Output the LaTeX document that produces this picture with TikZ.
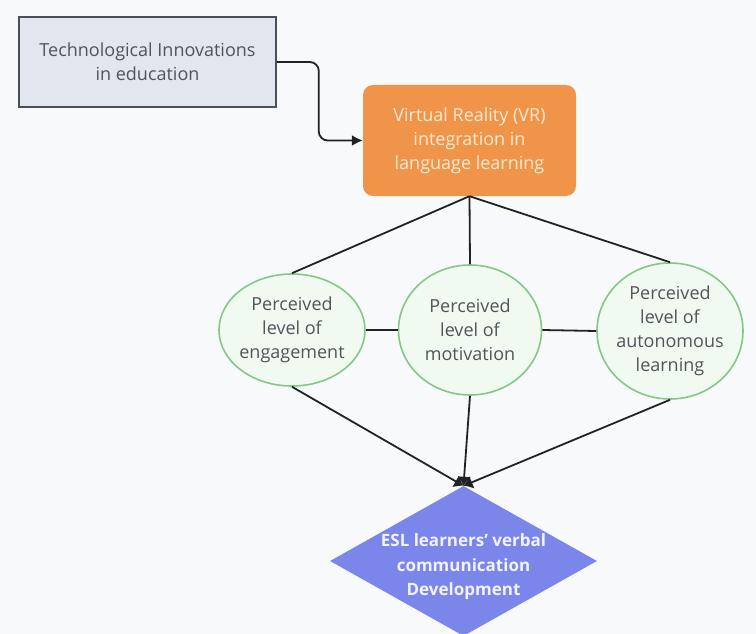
\documentclass[tikz,border=0pt]{standalone}
\usepackage{fontspec}
\setmainfont{Open Sans}
\usetikzlibrary{arrows.meta,shapes.geometric}
\definecolor{bgcol}{HTML}{F8F9FB}
\definecolor{techfill}{HTML}{E2E7EF}
\definecolor{techline}{HTML}{4B5057}
\definecolor{txtgray}{HTML}{50555C}
\definecolor{vrfill}{HTML}{F0944A}
\definecolor{vrtext}{HTML}{FCE9D2}
\definecolor{pcvfill}{HTML}{F1FAF1}
\definecolor{pcvline}{HTML}{84C888}
\definecolor{eslfill}{HTML}{7B86EA}
\definecolor{esltext}{HTML}{F2F3FF}
\definecolor{linkcol}{HTML}{222222}

\begin{document}
\begin{tikzpicture}[x=1pt,y=-1pt,
  txt/.style={align=center, text=txtgray, font=\fontsize{18}{24}\selectfont},
  techbox/.style={rectangle, draw=techline, fill=techfill, line width=1.6pt, minimum width=257pt, minimum height=90pt, txt},
  vrbox/.style={rectangle, rounded corners=10pt, fill=vrfill, minimum width=213pt, minimum height=111pt, align=center, text=vrtext, font=\fontsize{18}{24}\selectfont},
  pcv/.style={ellipse, draw=pcvline, fill=pcvfill, line width=1.6pt, inner sep=0pt},
  esl/.style={diamond, fill=eslfill, minimum width=267pt, minimum height=150pt, inner sep=0pt},
  link/.style={draw=linkcol, line width=1.8pt},
  every label/.style={txt}]
\useasboundingbox[fill=bgcol] (0,0) rectangle (756,634);

% boxes
\node[techbox] (tech) at (147.5,62) {Technological Innovations\\in education};
\node[vrbox] (vr) at (469.5,140.5) {Virtual Reality (VR)\\integration in\\language learning};

% perceived levels
\node[pcv, minimum width=146pt, minimum height=112pt, label=center:{Perceived\\level of\\engagement}] (eng) at (292,330) {};
\node[pcv, minimum width=143pt, minimum height=130pt, label=center:{Perceived\\level of\\motivation}] (mot) at (470,330) {};
\node[pcv, minimum width=146pt, minimum height=136pt, label=center:{Perceived\\level of\\autonomous\\learning}] (aut) at (670,331) {};

% outcome
\node[esl, label={[text=esltext, font=\bfseries\fontsize{17}{24.5}\selectfont, yshift=-6pt]center:{ESL learners' verbal\\communication\\Development}}] (dev) at (463.5,561) {};

% links
\draw[link, rounded corners=9pt, -{Latex[length=11pt,width=11pt]}] (tech.east) -- ++(42,0) |- (vr.west);
\foreach \p in {eng,mot,aut}
  \draw[link] (vr.south) -- (\p.north);
\draw[link] (eng.east) -- (mot.west);
\draw[link] (mot.east) -- (aut.west);
\foreach \p in {eng,mot,aut}
  \draw[link, -{Latex[length=9pt,width=14pt]}] (\p.south) -- (dev.north);
\end{tikzpicture}
\end{document}
